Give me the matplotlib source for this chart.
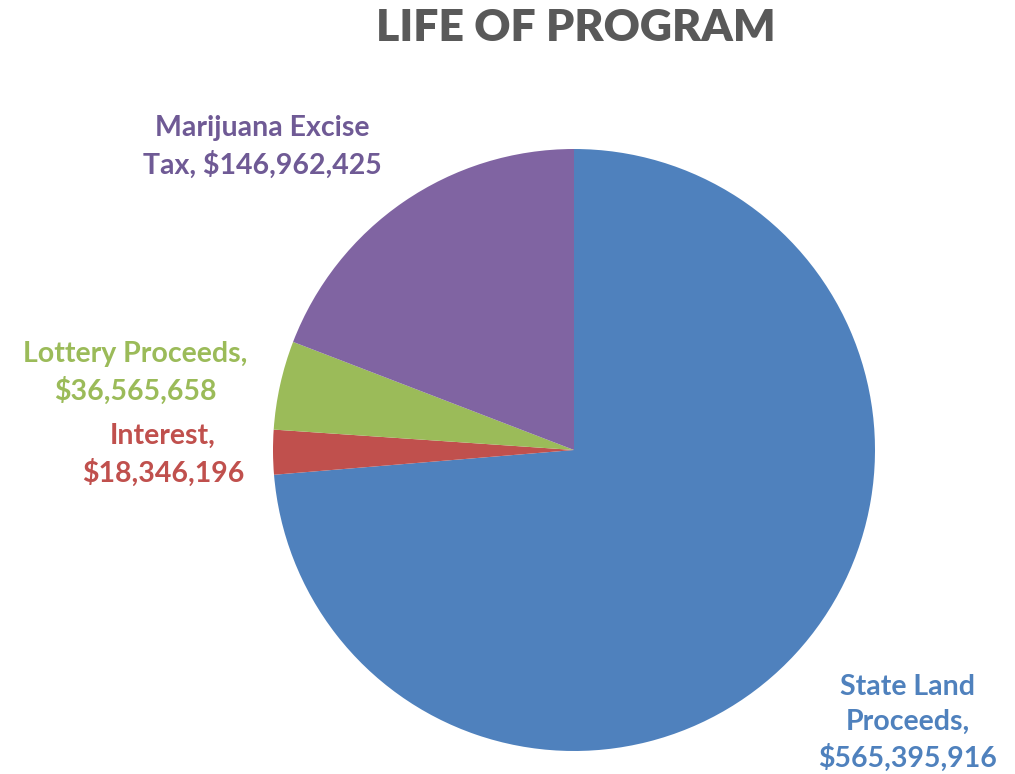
import matplotlib
matplotlib.use("Agg")
import matplotlib.pyplot as plt

# slice data, clockwise from 12 o'clock
labels = ["State Land\nProceeds,", "Interest,", "Lottery Proceeds,", "Marijuana Excise\nTax,"]
values = [565395916, 18346196, 36565658, 146962425]
colors = ["#4F81BD", "#C0504D", "#9BBB59", "#8064A2"]
text_colors = ["#4F81BD", "#C0504D", "#9BBB59", "#6F5A95"]

W, H = 1015, 774
cx, cy, r = 574, 450, 301

fig = plt.figure(figsize=(W / 100, H / 100), dpi=100)
ax = fig.add_axes([(cx - r) / W, (H - cy - r) / H, 2 * r / W, 2 * r / H])
ax.pie(values, colors=colors, startangle=90, counterclock=False, radius=1,
       wedgeprops=dict(linewidth=0))
ax.set_xlim(-1, 1)
ax.set_ylim(-1, 1)
ax.set_aspect("equal")
ax.axis("off")

# label centres in pixels
label_px = [(908, 723), (163, 455), (135, 373), (262, 147)]
# lottery/interest labels wrap the value onto a new line
for lab, val, tc, (px, py) in zip(labels, values, text_colors, label_px):
    if lab.endswith("\nTax,"):
        txt = lab + " ${:,}".format(val)
    else:
        txt = lab + "\n${:,}".format(val)
    ax.text((px - cx) / r, (cy - py) / r, txt, color=tc, ha="center", va="center",
            fontsize=20.5, fontweight="bold", family="Lato", linespacing=1.42)

fig.text(576 / W, 1 - 28 / H, "LIFE OF PROGRAM", ha="center", va="center",
         fontsize=32, fontweight="heavy", color="#595959", family="Lato")

fig.savefig("out.png", dpi=100)
